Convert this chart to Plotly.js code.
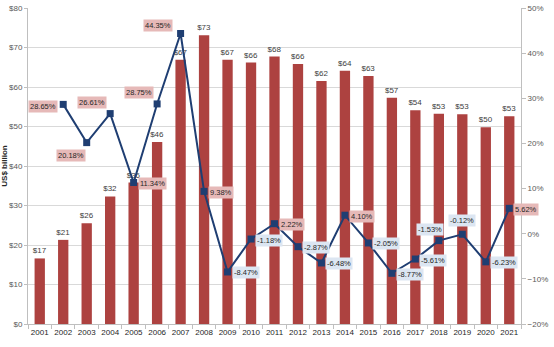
<!DOCTYPE html>
<html>
<head>
<meta charset="utf-8">
<script src="https://cdn.plot.ly/plotly-3.0.1.min.js"></script>
<style>html,body{margin:0;padding:0;background:#fff;}#chart{width:554px;height:347px;}</style>
</head>
<body>
<div id="chart"></div>
<script>
const years = ['2001','2002','2003','2004','2005','2006','2007','2008','2009','2010','2011','2012','2013','2014','2015','2016','2017','2018','2019','2020','2021'];
const spending = [16.6,21.3,25.5,32.3,35.8,46.1,66.9,73.1,66.9,66.2,67.7,65.8,61.5,64.1,62.8,57.3,54.1,53.2,53.1,49.8,52.6];
const growthYears = ['2002','2003','2004','2005','2006','2007','2008','2009','2010','2011','2012','2013','2014','2015','2016','2017','2018','2019','2020','2021'];
const growth = [28.65,20.18,26.61,11.34,28.75,44.35,9.38,-8.47,-1.18,2.22,-2.87,-6.48,4.10,-2.05,-8.77,-5.61,-1.53,-0.12,-6.23,5.62];
// label placement codes (style only)
const labelPlace = ['L','BL','AL','R','AL','AL2','R','R','R','R','R','R','R','R','R','R','A2','A','R','R'];

const FONT = 'Liberation Sans, Arial, sans-serif';
const placeMap = {
  'L':  {xanchor:'right', yanchor:'middle', xshift:-5, yshift:-2},
  'R':  {xanchor:'left',  yanchor:'middle', xshift:4,  yshift:-1},
  'BL': {xanchor:'right', yanchor:'top',    xshift:-1, yshift:-6},
  'AL': {xanchor:'right', yanchor:'bottom', xshift:-3, yshift:5},
  'AL2':{xanchor:'right', yanchor:'bottom', xshift:-8, yshift:2},
  'A':  {xanchor:'center',yanchor:'bottom', xshift:0,  yshift:7},
  'A2': {xanchor:'center',yanchor:'bottom', xshift:-9, yshift:5}
};

const annotations = growth.map((g, i) => {
  const p = placeMap[labelPlace[i]];
  return Object.assign({
    x: years.indexOf(growthYears[i]), y: g, xref: 'x', yref: 'y2',
    text: g.toFixed(2) + '%', showarrow: false,
    bgcolor: g >= 0 ? '#E6B9B8' : '#DCE6F2',
    borderpad: 1,
    font: {family: FONT, size: 7.5, color: '#262626'}
  }, p);
});

const traces = [
  {
    type: 'bar', x: years, y: spending, yaxis: 'y',
    marker: {color: '#AD4240'},
    text: spending.map(v => '$' + Math.round(v)),
    textposition: 'outside', cliponaxis: false, constraintext: 'none',
    textfont: {family: FONT, size: 8, color: '#404040'},
    hoverinfo: 'skip'
  },
  {
    type: 'scatter', mode: 'lines+markers', x: growthYears, y: growth, yaxis: 'y2',
    line: {color: '#1F3E72', width: 2},
    marker: {symbol: 'square', size: 7, color: '#1F3E72'},
    cliponaxis: false
  }
];

const layout = {
  width: 554, height: 347,
  margin: {l: 28, r: 33, t: 8, b: 23},
  paper_bgcolor: '#fff', plot_bgcolor: '#fff',
  showlegend: false, bargap: 0.56,
  font: {family: FONT, size: 8, color: '#595959'},
  xaxis: {
    type: 'category', categoryorder: 'array', categoryarray: years,
    range: [-0.5, years.length - 0.5], autorange: false,
    showgrid: false, showline: true, linecolor: '#BFBFBF', linewidth: 1,
    ticks: 'outside', tickson: 'boundaries', ticklen: 4, tickcolor: '#BFBFBF',
    tickangle: 0,
    tickfont: {family: FONT, size: 8, color: '#262626'}
  },
  yaxis: {
    range: [0, 80], autorange: false, dtick: 10, tickprefix: '$', showgrid: true, gridcolor: '#D9D9D9',
    showline: true, linecolor: '#BFBFBF', ticks: 'outside', ticklen: 3, tickcolor: '#BFBFBF',
    zeroline: false, automargin: false,
    title: {text: '<b>US$ billion</b>', font: {family: FONT, size: 8, color: '#262626'}, standoff: 2},
    tickfont: {family: FONT, size: 8, color: '#595959'}
  },
  yaxis2: {
    overlaying: 'y', side: 'right', range: [-20, 50], autorange: false, dtick: 10, ticksuffix: '%',
    showgrid: false, zeroline: false, showline: true, linecolor: '#BFBFBF',
    ticks: 'outside', ticklen: 4, tickcolor: '#BFBFBF', automargin: false,
    tickfont: {family: FONT, size: 8, color: '#595959'}
  },
  annotations: annotations
};

Plotly.newPlot('chart', traces, layout, {displayModeBar: false, staticPlot: true});
</script>
</body>
</html>
